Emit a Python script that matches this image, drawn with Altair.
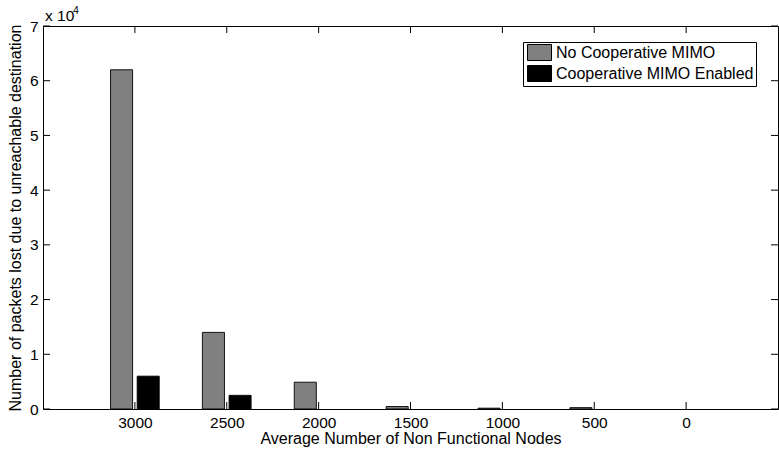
import altair as alt
import pandas as pd

# ---- data ----
categories = ["3000", "2500", "2000", "1500", "1000", "500", "0"]
series = ["No Cooperative MIMO", "Cooperative MIMO Enabled"]
no_coop = [62000, 14000, 4900, 450, 150, 250, 0]
coop = [6000, 2500, 0, 0, 0, 0, 0]
colors = ["#808080", "#000000"]
y_ticks = [0, 10000, 20000, 30000, 40000, 50000, 60000, 70000]

W, H = 735, 383
TICK = 7
bar_off = [-0.145, 0.145]
half_w = 0.12

rows = []
for si, (name, vals) in enumerate(zip(series, [no_coop, coop])):
    for ci, v in enumerate(vals):
        rows.append({"series": name, "cat": categories[ci], "pos": ci + 1 + bar_off[si], "value": v})
df = pd.DataFrame(rows)
xt = pd.DataFrame({"xpos": list(range(1, len(categories) + 1))})
yt = pd.DataFrame({"yv": y_ticks})

label_expr = "[" + ",".join("'%s'" % c for c in categories) + "][datum.value-1]"

FONT = "Liberation Sans"
xscale = alt.Scale(domain=[0, len(categories) + 1], nice=False, zero=False)
yscale = alt.Scale(domain=[0, 70000], nice=False)
xaxis = alt.Axis(values=list(range(1, len(categories) + 1)), labelExpr=label_expr,
                 title="Average Number of Non Functional Nodes", domain=False, ticks=False,
                 grid=False, labelPadding=6, titlePadding=0, labelFontSize=15.5,
                 titleFontSize=16, titleFontWeight="normal", labelColor="black",
                 titleColor="black", labelFont=FONT, titleFont=FONT)
yaxis = alt.Axis(values=y_ticks, labelExpr="datum.value/10000",
                 title="Number of packets lost due to unreachable destination",
                 domain=False, ticks=False, grid=False, labelPadding=5, titlePadding=6,
                 labelFontSize=15.5, titleFontSize=16, titleFontWeight="normal",
                 labelColor="black", titleColor="black", labelFont=FONT, titleFont=FONT)

def X(f):
    return alt.X(f, type="quantitative", scale=xscale, axis=xaxis)

def Y(f):
    return alt.Y(f, type="quantitative", scale=yscale, axis=yaxis)

bars = alt.Chart(df).transform_filter("datum.value > 0").transform_calculate(
    x0="datum.pos - %f" % half_w, x1="datum.pos + %f" % half_w, base="0"
).mark_rect(stroke="black", strokeWidth=0.9).encode(
    x=X("x0"), x2=alt.X2("x1:Q"), y=Y("value"), y2=alt.Y2("base:Q"),
    color=alt.Color("series:N", scale=alt.Scale(domain=series, range=colors),
                    sort=series,
                    legend=alt.Legend(title=None, orient="none", legendX=480, legendY=16,
                                      strokeColor="black", fillColor="white", padding=2,
                                      symbolType="M-1.5,-1H1.5V1H-1.5Z", symbolSize=256,
                                      symbolStrokeColor="black", symbolStrokeWidth=1,
                                      symbolOffset=6, labelOffset=8, rowPadding=0,
                                      labelFontSize=16, labelFont=FONT, labelColor="black",
                                      labelLimit=400)),
)

left_ticks = alt.Chart(yt).mark_rule(color="black", strokeWidth=1).encode(
    y=Y("yv"), x=alt.value(0), x2=alt.value(TICK))
right_ticks = alt.Chart(yt).mark_rule(color="black", strokeWidth=1).encode(
    y=Y("yv"), x=alt.value(W - TICK), x2=alt.value(W))
bottom_ticks = alt.Chart(xt).mark_rule(color="black", strokeWidth=1).encode(
    x=X("xpos"), y=alt.value(H - TICK), y2=alt.value(H))
top_ticks = alt.Chart(xt).mark_rule(color="black", strokeWidth=1).encode(
    x=X("xpos"), y=alt.value(0), y2=alt.value(TICK))

exp_base = alt.Chart(pd.DataFrame({"t": ["x 10"]})).mark_text(
    align="left", baseline="alphabetic", fontSize=15.5, font=FONT, color="black"
).encode(text="t:N", x=alt.value(2), y=alt.value(-5))
exp_sup = alt.Chart(pd.DataFrame({"t": ["4"]})).mark_text(
    align="left", baseline="alphabetic", fontSize=10.5, font=FONT, color="black"
).encode(text="t:N", x=alt.value(30), y=alt.value(-12))

chart = alt.layer(bars, left_ticks, right_ticks, bottom_ticks, top_ticks, exp_base, exp_sup).properties(
    width=W, height=H,
    autosize=alt.AutoSizeParams(type="none"),
    padding={"left": 43, "top": 26, "right": 1, "bottom": 42},
    background="white",
).configure_view(stroke="black", strokeWidth=1)

chart.save("out.html", embed_options={"renderer": "svg", "actions": False})
